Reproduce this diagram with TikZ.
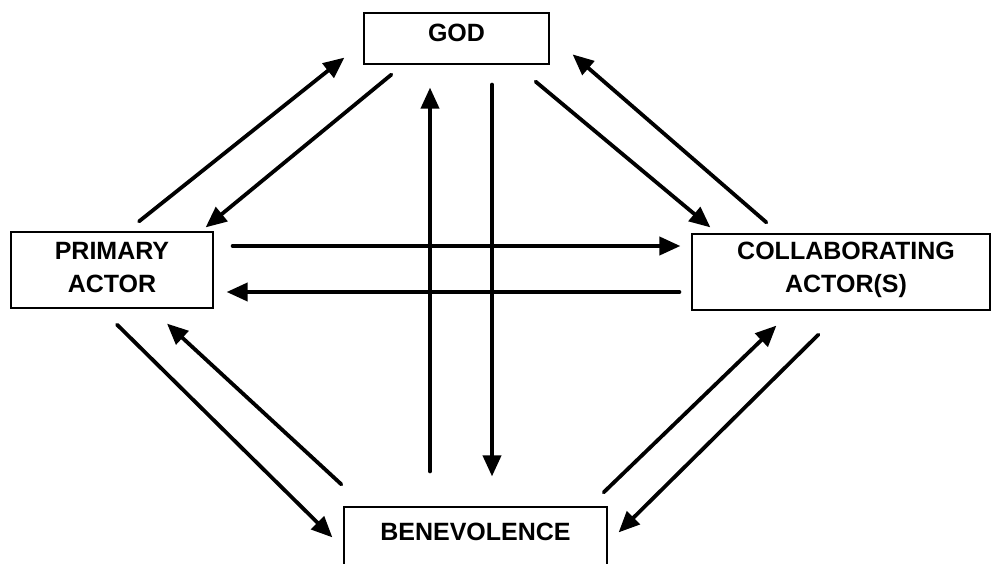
\documentclass[tikz,border=0pt]{standalone}
\usepackage{fontspec}
\setmainfont{Liberation Sans}
\usetikzlibrary{arrows.meta,calc}
\begin{document}
\begin{tikzpicture}[x=1pt,y=-1pt,
  boxnode/.style={draw=black,line width=1.2pt,rectangle,inner sep=0pt},
  lbl/.style={font=\bfseries\fontsize{25}{33}\selectfont,align=center,inner sep=0pt},
  conn/.style={line width=3.8pt,line cap=round,-{Triangle[length=21pt,width=18pt]}}]
\useasboundingbox (0,0) rectangle (992,564);
\node[boxnode,minimum width=185pt,minimum height=51pt] (god) at (456.5,38.5) {};
\node[boxnode,minimum width=202pt,minimum height=76pt] (prim) at (112,270) {};
\node[boxnode,minimum width=298pt,minimum height=76pt] (coll) at (841,272) {};
\node[boxnode,minimum width=263pt,minimum height=70pt] (ben) at (475.5,542) {};
\node[lbl] (godt) at (456.5,32.5) {GOD};
\node[lbl] (primt) at (112,268) {PRIMARY\\ACTOR};
\node[lbl] (collt) at (846,270) {COLLABORATING\\ACTOR(S)};
\node[lbl] (bent) at (475.5,532) {BENEVOLENCE};
% diagonals top left
\draw[conn] ($(prim.north)+(27,-10)$) -- ($(god.south west)+(-19,-7)$);
\draw[conn] ($(god.south west)+(28,10)$) -- ($(prim.north east)+(-8,-4)$);
% diagonals top right
\draw[conn] ($(god.south east)+(-14,17)$) -- ($(coll.north west)+(19,-6)$);
\draw[conn] ($(coll.north west)+(75,-11)$) -- ($(god.north east)+(23,42)$);
% horizontals
\draw[conn] ($(prim.east)+(19,-24)$) -- ($(coll.west)+(-11,-26)$);
\draw[conn] ($(coll.west)+(-12,20)$) -- ($(prim.east)+(13,22)$);
% verticals
\draw[conn] ($(ben.north)+(-45.5,-35)$) -- ($(god.south)+(-26.5,23)$);
\draw[conn] ($(god.south)+(35.5,20)$) -- ($(ben.north)+(16.5,-30)$);
% diagonals bottom left
\draw[conn] ($(prim.south)+(5,16)$) -- ($(ben.north west)+(-11,31)$);
\draw[conn] ($(ben.north west)+(-2,-22)$) -- ($(prim.south)+(55,15)$);
% diagonals bottom right
\draw[conn] ($(ben.north east)+(-4,-14)$) -- ($(coll.south west)+(85,15)$);
\draw[conn] ($(coll.south west)+(127,24)$) -- ($(ben.north east)+(11,26)$);
\end{tikzpicture}
\end{document}
